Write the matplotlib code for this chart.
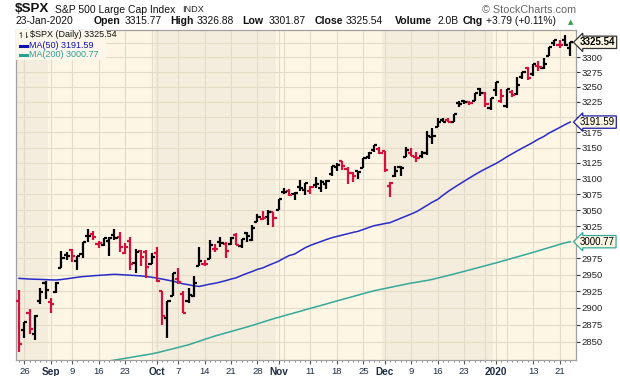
import numpy as np
import pandas as pd
import matplotlib
matplotlib.use('Agg')
import matplotlib.pyplot as plt
import matplotlib.transforms as mtrans
from matplotlib.lines import Line2D
from matplotlib.patches import Rectangle
from matplotlib.ticker import FixedLocator, NullLocator, FixedFormatter, NullFormatter

plt.rcParams['font.family'] = ['Liberation Sans', 'DejaVu Sans']

# ---------------- data ----------------
holidays = ['2019-09-02', '2019-11-28', '2019-12-25', '2020-01-01', '2020-01-20']
dates = pd.bdate_range('2019-08-23', '2020-01-23')
dates = dates[~dates.isin(pd.to_datetime(holidays))]

opens = [2911.07, 2866.70, 2893.14, 2861.28, 2910.37, 2937.09, 2909.01, 2924.67, 2960.60, 2980.33,
         2988.43, 2971.01, 2981.41, 3009.08, 3012.21, 2996.41, 2995.67, 3001.50, 3010.36, 3008.42,
         2983.50, 3002.43, 2968.35, 2985.73, 2985.47, 2967.07, 2983.69, 2924.78, 2885.38, 2918.56,
         2944.23, 2920.40, 2911.10, 2918.55, 2963.07, 2965.81, 2973.61, 2989.68, 3000.77, 2996.84,
         2996.48, 3010.73, 2994.01, 3014.78, 3003.32, 3032.12, 3035.39, 3039.74, 3046.90, 3050.72,
         3078.96, 3080.80, 3075.10, 3087.02, 3081.25, 3080.33, 3089.28, 3084.18, 3090.75, 3107.92,
         3117.91, 3127.45, 3114.66, 3108.49, 3111.41, 3117.44, 3134.85, 3145.49, 3147.18, 3143.85,
         3087.41, 3103.50, 3119.21, 3134.62, 3141.86, 3135.36, 3135.75, 3141.23, 3166.65, 3183.63,
         3195.40, 3195.21, 3192.32, 3223.33, 3226.05, 3225.45, 3227.20, 3247.23, 3240.09, 3215.18,
         3244.67, 3226.36, 3217.55, 3241.86, 3238.59, 3266.03, 3281.81, 3271.13, 3285.35, 3282.27,
         3302.97, 3323.66, 3321.03, 3330.02, 3315.77]
highs = [2927.01, 2879.27, 2898.79, 2890.03, 2930.50, 2940.43, 2914.39, 2938.84, 2985.86, 2985.03,
         2989.43, 2979.39, 3000.93, 3020.74, 3017.33, 3002.19, 3006.21, 3007.83, 3021.19, 3016.37,
         2999.15, 3007.98, 2989.82, 2987.28, 2987.31, 2983.85, 2992.53, 2924.78, 2911.13, 2952.86,
         2959.75, 2925.47, 2929.32, 2948.46, 2993.28, 2972.84, 3003.28, 2997.54, 3008.29, 3000.00,
         3007.33, 3014.57, 3004.78, 3016.07, 3027.39, 3044.08, 3047.87, 3050.10, 3046.90, 3066.95,
         3085.20, 3083.95, 3078.34, 3097.77, 3093.09, 3088.33, 3102.61, 3098.06, 3098.20, 3120.46,
         3124.17, 3127.64, 3118.97, 3110.11, 3112.87, 3133.83, 3142.69, 3154.26, 3150.30, 3144.31,
         3094.97, 3119.38, 3119.45, 3150.60, 3148.87, 3142.12, 3143.98, 3176.28, 3182.68, 3197.71,
         3198.22, 3198.48, 3205.48, 3225.65, 3227.78, 3226.43, 3240.08, 3247.93, 3240.92, 3231.72,
         3258.14, 3246.15, 3246.84, 3244.91, 3267.07, 3275.58, 3282.99, 3288.13, 3294.25, 3298.66,
         3317.11, 3329.88, 3329.79, 3337.77, 3326.88]
lows = [2834.97, 2856.00, 2860.59, 2853.05, 2905.67, 2913.32, 2891.85, 2921.86, 2960.60, 2972.51,
        2969.39, 2957.01, 2975.31, 3000.92, 3002.90, 2990.67, 2993.73, 2978.57, 3003.16, 2984.68,
        2982.23, 2957.73, 2952.86, 2963.71, 2945.53, 2967.07, 2938.70, 2874.93, 2855.94, 2918.56,
        2935.68, 2892.66, 2907.41, 2917.12, 2963.07, 2962.94, 2973.61, 2985.20, 2991.79, 2976.31,
        2995.35, 2995.04, 2991.21, 3000.42, 3001.94, 3032.12, 3034.81, 3025.96, 3023.19, 3050.72,
        3074.87, 3072.15, 3065.89, 3080.23, 3073.58, 3075.82, 3084.73, 3078.80, 3083.26, 3104.60,
        3112.06, 3113.47, 3091.41, 3094.55, 3099.26, 3117.44, 3131.00, 3143.41, 3139.34, 3110.78,
        3070.33, 3102.53, 3103.76, 3134.62, 3135.46, 3126.09, 3133.21, 3138.47, 3156.51, 3183.63,
        3191.03, 3191.14, 3192.32, 3216.03, 3222.30, 3220.51, 3227.20, 3234.37, 3216.57, 3212.03,
        3235.53, 3222.34, 3214.64, 3232.43, 3236.67, 3263.67, 3260.86, 3268.43, 3277.19, 3280.69,
        3302.82, 3318.86, 3316.61, 3320.04, 3301.87]
closes = [2847.11, 2878.38, 2869.16, 2887.94, 2924.58, 2926.46, 2906.27, 2937.78, 2976.00, 2978.71,
          2978.43, 2979.39, 3000.93, 3009.57, 3007.39, 2997.96, 3005.70, 3006.73, 3006.79, 2992.07,
          2991.78, 2966.60, 2984.87, 2977.62, 2961.79, 2976.74, 2940.25, 2887.61, 2910.63, 2952.01,
          2938.79, 2893.06, 2919.40, 2938.13, 2970.27, 2966.15, 2995.68, 2989.69, 2997.95, 2986.20,
          3006.72, 2995.99, 3004.52, 3010.29, 3022.55, 3039.42, 3036.89, 3046.77, 3037.56, 3066.91,
          3078.27, 3074.62, 3076.78, 3085.18, 3093.08, 3087.01, 3091.84, 3094.04, 3096.63, 3120.46,
          3122.03, 3120.18, 3108.46, 3103.54, 3110.29, 3133.64, 3140.52, 3153.63, 3140.98, 3113.87,
          3093.20, 3112.76, 3117.43, 3145.91, 3135.96, 3132.52, 3141.63, 3168.57, 3168.80, 3191.45,
          3192.52, 3191.14, 3205.37, 3221.22, 3224.01, 3223.38, 3239.91, 3240.02, 3221.29, 3230.78,
          3257.85, 3234.85, 3246.28, 3237.18, 3253.05, 3274.70, 3265.35, 3288.13, 3283.15, 3289.29,
          3316.81, 3329.62, 3320.79, 3321.75, 3325.54]
prev_close = 2922.95
volume_label = '2.0B'

ma50 = [2944.5, 2944.0, 2943.5, 2943.2, 2943.0, 2942.6, 2942.3, 2942.1, 2942.8, 2943.9,
        2945.0, 2946.2, 2947.2, 2947.8, 2948.5, 2949.1, 2949.6, 2950.2, 2950.7, 2950.3,
        2949.8, 2949.3, 2948.8, 2948.3, 2947.4, 2946.3, 2945.0, 2943.5, 2941.9, 2940.4,
        2938.3, 2936.2, 2934.9, 2933.2, 2932.3, 2934.0, 2935.8, 2937.1, 2939.0, 2941.1,
        2943.4, 2945.5, 2948.9, 2952.1, 2955.0, 2958.3, 2960.5, 2964.1, 2967.4, 2970.8,
        2975.4, 2979.5, 2981.6, 2986.6, 2991.4, 2995.1, 2998.1, 3001.1, 3004.1, 3006.8,
        3008.9, 3011.0, 3013.0, 3015.1, 3016.9, 3019.8, 3022.8, 3025.6, 3027.2, 3028.9,
        3030.3, 3033.7, 3037.1, 3040.5, 3043.9, 3047.5, 3052.4, 3057.5, 3062.6, 3066.9,
        3073.5, 3079.6, 3085.2, 3090.5, 3095.8, 3101.0, 3106.1, 3111.0, 3115.5, 3119.9,
        3124.2, 3129.2, 3134.7, 3139.6, 3144.5, 3149.2, 3153.8, 3158.5, 3163.6, 3167.9,
        3173.5, 3178.0, 3182.6, 3187.3, 3191.59]
ma200 = [None] * 17 + [
        2821.8, 2823.1, 2824.3,
        2825.6, 2826.9, 2828.2, 2829.5, 2830.8, 2832.1, 2833.7, 2835.6, 2837.6, 2839.5,
        2841.5, 2843.5, 2845.5, 2848.1, 2850.7, 2853.3, 2855.9, 2858.4, 2860.6, 2862.8,
        2865.0, 2867.3, 2869.4, 2871.6, 2874.0, 2876.5, 2878.9, 2881.4, 2883.9, 2886.1,
        2888.3, 2890.5, 2892.7, 2894.9, 2897.2, 2899.4, 2901.6, 2903.8, 2906.0, 2908.3,
        2910.5, 2912.7, 2914.9, 2917.1, 2919.3, 2921.5, 2923.7, 2925.8, 2927.5, 2929.1,
        2930.8, 2932.5, 2934.1, 2935.8, 2937.4, 2938.7, 2940.1, 2941.4, 2943.0, 2945.0,
        2947.0, 2949.0, 2951.0, 2953.1, 2955.2, 2957.4, 2959.5, 2961.7, 2963.8, 2966.0,
        2968.1, 2970.4, 2972.7, 2975.0, 2977.3, 2979.6, 2981.9, 2984.3, 2986.7, 2989.2,
        2991.6, 2994.0, 2996.5, 2998.9, 3000.77]

y_ticks = list(range(2850, 3326, 25))

# ---------------- figure ----------------
W, H = 620, 376
fig = plt.figure(figsize=(W / 100, H / 100), dpi=100)
fig.patch.set_facecolor('white')
ax = fig.add_axes([16 / W, 16 / H, 560 / W, 330.5 / H])

n = len(closes)
x = np.arange(n)
o = np.array(opens); h = np.array(highs); l = np.array(lows); c = np.array(closes)
pc = np.concatenate([[prev_close], c[:-1]])
RED = '#D4103C'
cols = np.where(c < pc, RED, 'black')

ax.set_yscale('log')
ax.set_ylim(2823.2, 3347.6)
ax.set_xlim(-0.57, 105.1)

LIGHT = '#FDF6E4'
DARK = '#F4EDDD'
ax.set_facecolor(LIGHT)
# month shading
months = dates.month
starts = [0] + [i for i in range(1, n) if months[i] != months[i - 1]]
ends = starts[1:] + [n]
for k, (s, e) in enumerate(zip(starts, ends)):
    if k % 2 == 0:
        ax.axvspan(s - 0.5, e - 0.5 if e < n else 106, color=DARK, lw=0, zorder=0)

GRID = '#E2DBC7'
for yv in y_ticks:
    ax.axhline(yv, color=GRID, lw=0.8, zorder=0.5)

# vertical grid: first trading day of week and of month
wk = dates.isocalendar().week.values
grid_idx = sorted(set([i for i in range(1, n) if wk[i] != wk[i - 1]] + starts[1:]))
for gi in grid_idx:
    ax.axvline(gi, color=GRID, lw=0.8, zorder=0.5)

# MAs
ma50_a = np.array(ma50, dtype=float)
ma200_a = np.array([np.nan if v is None else v for v in ma200], dtype=float)
BLUE = '#2A2AC8'
TEAL = '#35A897'
ax.plot(x, ma50_a, color=BLUE, lw=1.1, zorder=2)
ax.plot(x, ma200_a, color=TEAL, lw=1.1, zorder=2)

# OHLC bars
lw_bar = 1.6
tick = 0.6
ax.vlines(x, l, h, colors=cols, lw=lw_bar, zorder=3, capstyle='butt')
ax.hlines(o, x - tick, x, colors=cols, lw=lw_bar, zorder=3)
ax.hlines(c, x, x + tick, colors=cols, lw=lw_bar, zorder=3)

# axes styling
for s in ax.spines.values():
    s.set_color('#A0A0A0')
    s.set_linewidth(0.9)

# tick labels hidden behind the value boxes are left blank
box_vals = [closes[-1], ma50[-1], ma200[-1]]
ylabels = []
for v in y_ticks:
    hidden = any(abs(np.log(v / b)) * 1940 < 7 for b in box_vals)
    ylabels.append('' if hidden else str(v))

ax.yaxis.tick_right()
ax.yaxis.set_major_locator(FixedLocator(y_ticks))
ax.yaxis.set_minor_locator(NullLocator())
ax.yaxis.set_major_formatter(FixedFormatter(ylabels))
ax.yaxis.set_minor_formatter(NullFormatter())
ax.tick_params(axis='y', which='major', direction='out', length=3, width=0.8,
               color='#333333', labelsize=6.8, pad=1, labelcolor='#222222')

# x labels
lab_idx, lab_txt, lab_bold = [], [], []
month_set = set(starts)
for gi in grid_idx:
    d = dates[gi]
    if gi in month_set:
        lab_idx.append(gi)
        lab_txt.append(str(d.year) if d.month == 1 else d.strftime('%b'))
        lab_bold.append(True)
    else:
        near = [m for m in month_set if m != 0 and abs(m - gi) <= 2]
        if near:
            continue
        lab_idx.append(gi)
        lab_txt.append(str(d.day))
        lab_bold.append(False)
ax.xaxis.set_major_locator(FixedLocator(lab_idx))
ax.xaxis.set_major_formatter(FixedFormatter(lab_txt))
ax.xaxis.set_minor_locator(FixedLocator(list(x)))
ax.tick_params(axis='x', which='major', direction='out', length=3, width=0.8,
               color='#555555', labelsize=6.8, pad=2, labelcolor='#1E2E45')
ax.tick_params(axis='x', which='minor', direction='out', length=1.5, width=0.6,
               color='#777777')
for t, b in zip(ax.get_xticklabels(), lab_bold):
    if b:
        t.set_fontweight('bold')
        t.set_fontsize(7.2)

# right-side value boxes
bt = mtrans.blended_transform_factory(ax.transAxes, ax.transData)
xb = 1.0 + 4 / 560
ax.text(xb, closes[-1], f'{closes[-1]:.2f}', transform=bt, ha='left', va='center',
        fontsize=7, fontweight='bold', color='black', zorder=6, clip_on=False,
        bbox=dict(boxstyle='larrow,pad=0.12', fc=LIGHT, ec='#333333', lw=0.9))
ax.text(xb, ma50[-1], f'{ma50[-1]:.2f}', transform=bt, ha='left', va='center',
        fontsize=7, color='black', zorder=6, clip_on=False,
        bbox=dict(boxstyle='larrow,pad=0.12', fc=LIGHT, ec='#1A1AA8', lw=0.9))
ax.text(xb, ma200[-1], f'{ma200[-1]:.2f}', transform=bt, ha='left', va='center',
        fontsize=7, color='black', zorder=6, clip_on=False,
        bbox=dict(boxstyle='larrow,pad=0.12', fc=LIGHT, ec=TEAL, lw=0.9))

# legend box
ax.add_patch(Rectangle((0, 1 - 30 / 330.5), 90 / 560, 30 / 330.5, transform=ax.transAxes,
                       fc='#FCF7EA', ec='none', zorder=4))


def fpx(xp, yp):
    return xp / W, 1 - yp / H


fig.text(*fpx(17.5, 35), '↿⇂', fontsize=5.5, color='black', va='center', ha='left',
         family=['DejaVu Sans'], zorder=7)
fig.text(*fpx(30, 34.7), f'$SPX (Daily) {closes[-1]:.2f}', fontsize=6.5, color='#111111',
         va='center', ha='left', zorder=7)
fig.add_artist(Line2D([20 / W, 27 / W], [1 - 45.5 / H] * 2, color='#1010B0', lw=2.2))
fig.text(*fpx(29.5, 45.5), f'MA(50) {ma50[-1]:.2f}', fontsize=6.5, color='#1010B0',
         va='center', ha='left', zorder=7)
fig.add_artist(Line2D([20 / W, 27 / W], [1 - 54.7 / H] * 2, color='#2BA090', lw=2.2))
fig.text(*fpx(29.5, 54.7), f'MA(200) {ma200[-1]:.2f}', fontsize=6.5, color='#2BA090',
         va='center', ha='left', zorder=7)

# header
fig.text(*fpx(15, 9.5), '$SPX', fontsize=9.6, fontweight='bold', color='#111111', va='center')
fig.text(*fpx(55, 10), 'S&P 500 Large Cap Index', fontsize=7.5, color='#111111', va='center')
fig.text(*fpx(182, 10), 'INDX', fontsize=6.6, color='#222222', va='center')
fig.text(*fpx(576, 10), '© StockCharts.com', fontsize=7.8, color='#666666', va='center',
         ha='right')

y2 = 21.5
chg = closes[-1] - closes[-2]
pct = chg / closes[-2] * 100
fig.text(*fpx(16, y2), dates[-1].strftime('%d-%b-%Y'), fontsize=7.4, color='#111111', va='center')
items = [(94, 'Open', True), (125, f'{opens[-1]:.2f}', False),
         (170, 'High', True), (197, f'{highs[-1]:.2f}', False),
         (242, 'Low', True), (269, f'{lows[-1]:.2f}', False),
         (315, 'Close', True), (346, f'{closes[-1]:.2f}', False),
         (395, 'Volume', True), (437, volume_label, False),
         (463, 'Chg', True), (486, f'{chg:+.2f} ({pct:+.2f}%)', False)]
for xp, s, b in items:
    fig.text(*fpx(xp, y2), s, fontsize=7.6 if b else 7.4,
             fontweight='bold' if b else 'normal', color='#111111', va='center')
fig.text(*fpx(568, y2 + 0.5), '▲', fontsize=5, color='#2E9E3E', va='center',
         family=['DejaVu Sans'])

fig.savefig('out.png', dpi=100, facecolor='white')
